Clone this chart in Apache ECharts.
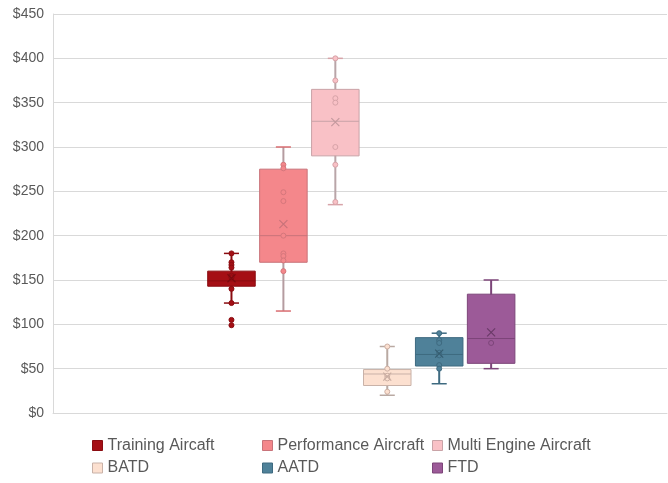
<!DOCTYPE html>
<html>
<head>
<meta charset="utf-8">
<script src="https://cdn.jsdelivr.net/npm/echarts@6/dist/echarts.min.js"></script>
<style>html,body{margin:0;padding:0;background:#fff}#c{width:668px;height:483px}</style>
</head>
<body>
<div id="c"></div>
<script>
const groupNames = ['Training Aircaft', 'Performance Aircraft', 'Multi Engine Aircraft', 'BATD', 'AATD', 'FTD'];
const whiskerMin = [124, 115, 235, 20, 33, 50];
const quartile1  = [143, 170, 290, 31, 53, 56];
const medians    = [149, 200, 329, 44, 66, 84];
const quartile3  = [160, 275, 365, 49, 85, 134];
const whiskerMax = [180, 300, 400, 75, 90, 150];
const means      = [152, 213, 328, 41, 67, 91];
const trainingPoints    = [180, 170, 167, 164, 155, 153, 140, 124, 105, 99];
const performancePoints = [280, 276, 249, 239, 200, 180, 177, 172, 160];
const multiEnginePoints = [400, 375, 355, 350, 300, 280, 238];
const batdPoints        = [75, 50, 42, 39, 24];
const aatdPoints        = [90, 82, 79, 68, 65, 54, 50];
const ftdPoints         = [79];
const groupPoints = [trainingPoints, performancePoints, multiEnginePoints, batdPoints, aatdPoints, ftdPoints];
const yMin = 0, yMax = 450, yStep = 50;

const styles = [
  {fill:'#A50F15', border:'#8A0C11', whisker:'#8A0C11', cap:'#8A0C11', ptFill:'#A50F15', ptBorder:'#8A0C11', mean:'#7A0A0F'},
  {fill:'#F4878B', border:'#C8737A', whisker:'#B59CA0', cap:'#D96C70', ptFill:'#F4878B', ptBorder:'#D5777C', mean:'#C8737A'},
  {fill:'#F9C1C6', border:'#C9A3A7', whisker:'#B9A5A8', cap:'#D7A3A8', ptFill:'#F9C1C6', ptBorder:'#D7A3A8', mean:'#C4999E'},
  {fill:'#FCE0D0', border:'#C9B2A8', whisker:'#B9A9A2', cap:'#B9A9A2', ptFill:'#FCE0D0', ptBorder:'#CDB0A4', mean:'#C9ADA2'},
  {fill:'#4F8199', border:'#3E6A80', whisker:'#3E6A80', cap:'#3E6A80', ptFill:'#4F8199', ptBorder:'#3E6A80', mean:'#355D70'},
  {fill:'#9C5A98', border:'#7C4579', whisker:'#7C4579', cap:'#7C4579', ptFill:'#9C5A98', ptBorder:'#7C4579', mean:'#6A3A68'}
];

const FONT = 'Liberation Sans, Arial, sans-serif';
const series = [];
groupNames.forEach(function (name, i) {
  const st = styles[i];
  series.push({
    type: 'custom', name: name, xAxisIndex: 1, yAxisIndex: 1,
    itemStyle: {color: st.fill, borderColor: st.border},
    encode: {x: 0, y: [1, 2, 3, 4, 5]},
    data: [[i, whiskerMin[i], quartile1[i], medians[i], quartile3[i], whiskerMax[i]]],
    z: 2,
    renderItem: function (params, api) {
      const x = api.value(0);
      const pMin = api.coord([x, api.value(1)]);
      const pQ1 = api.coord([x, api.value(2)]);
      const pMed = api.coord([x, api.value(3)]);
      const pQ3 = api.coord([x, api.value(4)]);
      const pMax = api.coord([x, api.value(5)]);
      const band = api.size([1, 0])[0];
      const bw = band * 0.915, cw = band * 0.29, cx = pMed[0];
      return {type: 'group', children: [
        {type: 'line', shape: {x1: cx, y1: pMax[1], x2: cx, y2: pMin[1]}, style: {stroke: st.whisker, lineWidth: 2}},
        {type: 'line', shape: {x1: cx - cw / 2, y1: pMax[1], x2: cx + cw / 2, y2: pMax[1]}, style: {stroke: st.cap, lineWidth: 1.5}},
        {type: 'line', shape: {x1: cx - cw / 2, y1: pMin[1], x2: cx + cw / 2, y2: pMin[1]}, style: {stroke: st.cap, lineWidth: 1.5}},
        {type: 'rect', shape: {x: cx - bw / 2, y: pQ3[1], width: bw, height: pQ1[1] - pQ3[1]}, style: {fill: st.fill, stroke: st.border, lineWidth: 1}},
        {type: 'line', shape: {x1: cx - bw / 2, y1: pMed[1], x2: cx + bw / 2, y2: pMed[1]}, style: {stroke: st.border, lineWidth: 1}}
      ]};
    }
  });
  series.push({
    type: 'scatter', name: name, xAxisIndex: 1, yAxisIndex: 1, z: 3,
    symbol: 'circle', symbolSize: 5,
    itemStyle: {color: st.ptFill, borderColor: st.ptBorder, borderWidth: 1, opacity: 1},
    data: groupPoints[i].map(function (v) { return [i, v]; })
  });
  series.push({
    type: 'scatter', name: name, xAxisIndex: 1, yAxisIndex: 1, z: 4,
    symbol: 'path://M0,0L10,10M10,0L0,10', symbolSize: 8,
    itemStyle: {color: 'none', borderColor: st.mean, borderWidth: 1.2, opacity: 1},
    data: [[i, means[i]]]
  });
});

const legendPos = [[92, 437.5], [262, 437.5], [432, 437.5], [92, 460], [262, 460], [432, 460]];
const legends = groupNames.map(function (name, i) {
  return {
    left: legendPos[i][0], top: legendPos[i][1], padding: 0,
    itemWidth: 10, itemHeight: 10, selectedMode: false,
    textStyle: {fontSize: 16, color: '#595959', fontFamily: FONT},
    data: [{name: name, icon: 'rect', itemStyle: {color: styles[i].fill, borderColor: styles[i].border, borderWidth: 1}}]
  };
});

const chart = echarts.init(document.getElementById('c'), null, {renderer: 'canvas'});
chart.setOption({
  animation: false,
  backgroundColor: '#ffffff',
  textStyle: {fontFamily: FONT},
  legend: legends,
  grid: [
    {left: 53, right: 1, top: 14, bottom: 70},
    {left: 205.5, width: 311.6, top: 14, bottom: 70}
  ],
  xAxis: [
    {gridIndex: 0, type: 'category', data: [''], axisLine: {show: true, lineStyle: {color: '#d9d9d9'}}, axisTick: {show: false}, axisLabel: {show: false}},
    {gridIndex: 1, type: 'value', min: -0.5, max: 5.5, show: false}
  ],
  yAxis: [
    {gridIndex: 0, type: 'value', min: yMin, max: yMax, interval: yStep,
     axisLine: {show: true, lineStyle: {color: '#d9d9d9'}}, axisTick: {show: false},
     axisLabel: {formatter: function (v) { return '$' + v; }, fontSize: 14, color: '#595959', margin: 9, fontFamily: FONT},
     splitLine: {lineStyle: {color: '#d9d9d9'}}},
    {gridIndex: 1, type: 'value', min: yMin, max: yMax, show: false}
  ],
  series: series
});
</script>
</body>
</html>
